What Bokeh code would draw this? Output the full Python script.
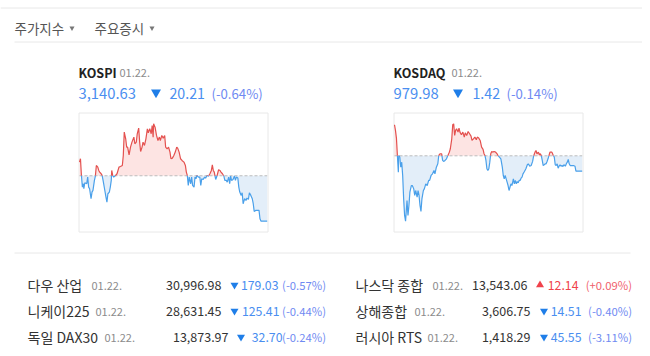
from bokeh.plotting import figure
from bokeh.models import Range1d
from bokeh.core.properties import value
from bokeh.embed import file_html
from bokeh.resources import INLINE
import numpy as np

# ---------------- data ----------------
tabs = ["주가지수", "주요증시"]

index_names = ["KOSPI", "KOSDAQ"]
index_dates = ["01.22.", "01.22."]
index_close = [3140.63, 979.98]
index_change = [-20.21, -1.42]
index_pct = [-0.64, -0.14]
session_minutes = 390  # 09:00 - 15:30

kospi_minutes = [0, 2, 4, 6, 8, 9, 11, 15, 17, 19, 21, 24, 26, 28, 31, 33, 35, 38, 40, 42, 45, 47, 49, 52, 55, 57, 59, 62, 64, 66, 67, 69, 71, 75, 78, 82, 85, 89, 91, 93, 96, 98, 100, 103, 106, 109, 113, 115, 118, 120, 123, 125, 127, 130, 132, 135, 138, 141, 143, 146, 149, 151, 153, 154, 157, 160, 163, 166, 168, 171, 174, 177, 179, 182, 185, 188, 190, 193, 196, 199, 202, 204, 207, 210, 213, 217, 220, 222, 224, 226, 228, 231, 233, 235, 238, 240, 242, 244, 247, 250, 252, 254, 257, 260, 262, 265, 268, 271, 274, 276, 278, 280, 283, 286, 289, 292, 294, 297, 300, 302, 305, 307, 310, 312, 314, 316, 319, 322, 324, 326, 329, 331, 333, 336, 338, 340, 343, 346, 348, 351, 353, 356, 359, 361, 363, 366, 369, 373, 375, 377, 390]
kospi_values = [3166.91, 3168.40, 3160.99, 3155.80, 3157.28, 3155.06, 3157.73, 3157.28, 3160.25, 3155.80, 3155.06, 3150.62, 3153.58, 3154.32, 3158.77, 3160.69, 3165.43, 3164.69, 3163.21, 3162.47, 3161.73, 3160.99, 3158.77, 3155.06, 3151.36, 3149.14, 3152.84, 3153.58, 3155.80, 3158.77, 3163.21, 3160.99, 3160.25, 3160.99, 3161.73, 3164.69, 3164.99, 3165.43, 3169.88, 3180.25, 3177.28, 3173.58, 3173.58, 3170.17, 3173.58, 3175.80, 3178.03, 3175.06, 3175.80, 3179.51, 3182.03, 3175.80, 3171.65, 3173.58, 3175.80, 3174.32, 3177.28, 3181.73, 3179.95, 3181.73, 3179.51, 3183.21, 3178.03, 3183.95, 3182.47, 3178.77, 3176.54, 3178.03, 3176.54, 3178.77, 3177.58, 3178.77, 3173.58, 3172.84, 3173.58, 3171.36, 3168.40, 3168.69, 3169.88, 3171.36, 3173.58, 3173.14, 3171.36, 3168.40, 3167.65, 3166.91, 3165.43, 3162.47, 3160.99, 3156.54, 3160.25, 3157.28, 3160.25, 3156.54, 3155.80, 3160.25, 3159.51, 3160.99, 3160.25, 3160.25, 3156.54, 3159.51, 3159.21, 3160.25, 3159.80, 3160.99, 3160.69, 3161.73, 3163.21, 3165.73, 3163.21, 3162.47, 3159.21, 3160.99, 3163.51, 3163.21, 3162.47, 3161.73, 3160.69, 3158.77, 3158.77, 3158.03, 3160.25, 3157.28, 3160.69, 3158.77, 3159.21, 3160.69, 3158.77, 3160.25, 3159.80, 3155.80, 3153.58, 3152.10, 3153.28, 3148.40, 3150.62, 3149.88, 3150.91, 3150.32, 3153.28, 3152.10, 3150.62, 3148.40, 3144.99, 3145.43, 3145.43, 3145.43, 3141.73, 3140.69, 3140.63]

kosdaq_minutes = [0, 2, 4, 6, 8, 9, 11, 13, 15, 17, 19, 21, 23, 26, 28, 30, 32, 35, 37, 40, 42, 44, 47, 49, 51, 53, 55, 57, 60, 62, 65, 68, 71, 73, 76, 79, 82, 84, 87, 90, 92, 95, 98, 100, 102, 105, 108, 111, 114, 116, 119, 121, 123, 125, 127, 129, 132, 134, 136, 139, 142, 145, 147, 150, 153, 156, 159, 161, 164, 167, 170, 172, 175, 178, 181, 184, 186, 188, 190, 192, 194, 196, 198, 200, 202, 204, 207, 210, 213, 215, 218, 221, 224, 226, 228, 230, 232, 234, 236, 238, 240, 242, 244, 247, 249, 251, 253, 255, 257, 259, 261, 263, 265, 267, 270, 273, 276, 278, 281, 284, 287, 289, 292, 294, 296, 299, 301, 303, 305, 307, 309, 311, 313, 315, 317, 319, 321, 323, 325, 327, 330, 332, 334, 336, 338, 340, 342, 344, 346, 348, 350, 352, 355, 357, 359, 361, 363, 365, 367, 369, 372, 375, 377, 390]
kosdaq_values = [984.27, 983.75, 983.04, 981.43, 979.89, 981.43, 981.28, 980.35, 980.81, 979.58, 977.42, 975.88, 975.35, 977.26, 975.88, 976.80, 978.04, 978.65, 978.65, 978.34, 977.73, 978.19, 977.57, 978.19, 977.73, 976.80, 976.25, 977.42, 978.19, 978.34, 978.81, 978.65, 979.12, 979.12, 979.58, 979.73, 980.04, 979.73, 980.35, 980.66, 981.43, 981.59, 981.59, 980.97, 980.88, 980.97, 981.12, 981.43, 981.74, 982.05, 982.97, 984.27, 984.36, 983.28, 983.75, 983.90, 983.59, 983.96, 983.59, 983.34, 983.59, 983.13, 983.53, 983.28, 983.65, 983.44, 983.22, 982.82, 982.97, 983.13, 982.88, 983.13, 983.04, 982.82, 982.20, 981.99, 981.59, 981.43, 980.97, 980.20, 980.04, 980.20, 980.81, 981.59, 981.80, 981.74, 981.80, 981.74, 981.59, 981.43, 981.28, 981.12, 980.35, 979.58, 979.27, 979.58, 979.27, 978.96, 978.65, 978.19, 978.50, 978.81, 978.65, 979.27, 978.81, 979.12, 978.81, 979.02, 978.90, 979.12, 979.12, 979.33, 979.42, 979.73, 979.95, 980.20, 980.57, 980.66, 980.44, 980.50, 980.88, 981.37, 981.74, 981.89, 981.59, 981.74, 981.50, 981.59, 981.43, 980.97, 980.50, 980.57, 980.66, 980.66, 980.88, 981.12, 981.43, 981.74, 981.74, 981.74, 981.43, 981.28, 980.57, 980.50, 980.66, 980.26, 980.44, 980.57, 980.44, 980.50, 980.41, 980.57, 980.44, 980.66, 980.81, 981.06, 980.66, 980.50, 980.50, 980.50, 980.50, 980.44, 979.98, 979.98]

world_names = ["다우 산업", "니케이225", "독일 DAX30", "나스닥 종합", "상해종합", "러시아 RTS"]
world_dates = ["01.22."] * 6
world_close = ["30,996.98", "28,631.45", "13,873.97", "13,543.06", "3,606.75", "1,418.29"]
world_change = ["179.03", "125.41", "32.70", "12.14", "14.51", "45.55"]
world_pct = ["(-0.57%)", "(-0.44%)", "(-0.24%)", "(+0.09%)", "(-0.40%)", "(-3.11%)"]
world_up = [False, False, False, True, False, False]

# ---------------- styles / layout ----------------
FONT = "Noto Sans CJK KR"
C_TEXT = "#333333"
C_TAB = "#555555"
C_DATE = "#8c8c8c"
C_BLUE = "#4a8ef0"
C_BLUE_PCT = "#6f8af2"
C_BLUE_TRI = "#1f7ee8"
C_RED = "#f0424b"
C_RED_PCT = "#f0606c"
C_LINE = "#e8e8e8"
LINE_UP = "#e4514f"
LINE_DN = "#4aa0ea"
FILL_UP = "#fde4e3"
FILL_DN = "#e3eef9"

# page placement (figure is rendered at the page origin)
PX0, PX1, PY0, PY1 = 0, 642, 0, 348
W, H = PX1 - PX0, PY1 - PY0

p = figure(width=W, height=H, x_range=Range1d(PX0, PX1), y_range=Range1d(PY1, PY0),
           output_backend="svg", toolbar_location=None, min_border=0,
           x_axis_location=None, y_axis_location=None)
p.grid.visible = False
p.outline_line_color = None
p.background_fill_color = "white"
p.border_fill_color = "white"


def txt(x, y, s, size, color, bold=False, align="left"):
    p.text(x=[x], y=[y], text=[s], text_font=value(FONT), text_font_size=f"{size}px",
           text_color=color, text_align=align, text_baseline="middle",
           text_font_style="bold" if bold else "normal")


def hline(x0, x1, y, color=C_LINE):
    p.segment(x0=[x0], y0=[y], x1=[x1], y1=[y], line_color=color, line_width=1)


# separators
hline(PX0, PX1, 7.5)
hline(14, PX1, 41.5)
hline(14, 630, 252.5)

# tabs
tab_x = [14, 94]
tri_x = [71.5, 151.5]
for tx, trx, t in zip(tab_x, tri_x, tabs):
    txt(tx, 27.5, t, 13.5, C_TAB)
    p.scatter(x=[trx], y=[27.5], marker="inverted_triangle", size=5, fill_color="#777777",
              line_color=None)


def split_at_base(t, v, base):
    t2, v2 = [t[0]], [v[0]]
    for i in range(1, len(t)):
        a, b = v[i - 1] - base, v[i] - base
        if a * b < 0:
            f = a / (a - b)
            t2.append(t[i - 1] + f * (t[i] - t[i - 1]))
            v2.append(base)
        t2.append(t[i])
        v2.append(v[i])
    return np.array(t2, float), np.array(v2, float)


def spark(name, minutes, values, prev_close, xl, xr, yt, yb, box):
    lo, hi = min(values), max(values)
    k = session_minutes / (xr - xl)
    m = (hi - lo) / (yb - yt)
    p.extra_x_ranges[name + "_x"] = Range1d(-(xl - PX0) * k, session_minutes + (PX1 - xr) * k)
    p.extra_y_ranges[name + "_y"] = Range1d(lo - (PY1 - yb) * m, hi + (yt - PY0) * m)
    kw = dict(x_range_name=name + "_x", y_range_name=name + "_y")

    bl, bt, br, bb = box
    p.quad(left=[bl], right=[br], top=[bt], bottom=[bb], fill_color=None,
           line_color=C_LINE, line_width=1)

    t2, v2 = split_at_base(minutes, values, prev_close)
    base = np.full_like(v2, prev_close)
    p.varea(x=t2, y1=base, y2=np.maximum(v2, prev_close), fill_color=FILL_UP, **kw)
    p.varea(x=t2, y1=np.minimum(v2, prev_close), y2=base, fill_color=FILL_DN, **kw)
    p.line(x=[0, session_minutes], y=[prev_close, prev_close], line_color="#bdbdbd",
           line_dash="3 2", line_width=1, **kw)

    xs_up, ys_up, xs_dn, ys_dn = [], [], [], []
    cur_x, cur_y, cur_up = [t2[0]], [v2[0]], None
    for i in range(1, len(t2)):
        up = (v2[i - 1] + v2[i]) / 2 >= prev_close
        if cur_up is None:
            cur_up = up
        if up != cur_up:
            (xs_up if cur_up else xs_dn).append(cur_x)
            (ys_up if cur_up else ys_dn).append(cur_y)
            cur_x, cur_y, cur_up = [t2[i - 1]], [v2[i - 1]], up
        cur_x.append(t2[i])
        cur_y.append(v2[i])
    (xs_up if cur_up else xs_dn).append(cur_x)
    (ys_up if cur_up else ys_dn).append(cur_y)
    p.multi_line(xs=xs_up, ys=ys_up, line_color=LINE_UP, line_width=1.2, **kw)
    p.multi_line(xs=xs_dn, ys=ys_dn, line_color=LINE_DN, line_width=1.2, **kw)


# index headers
hdr_x = [78, 393]
date_x = [119, 451]
tri_hx = [155.5, 457.5]
chg_x = [169, 472]
pct_x = [211, 506]
for i in range(2):
    txt(hdr_x[i], 72, index_names[i], 12.5, "#222222", bold=True)
    txt(date_x[i], 72, index_dates[i], 11, C_DATE)
    txt(hdr_x[i], 92.5, f"{index_close[i]:,.2f}", 14.8, C_BLUE)
    p.scatter(x=[tri_hx[i]], y=[92], marker="inverted_triangle", size=10,
              fill_color=C_BLUE_TRI, line_color=None)
    txt(chg_x[i], 92.5, f"{abs(index_change[i]):.2f}", 14.2, C_BLUE)
    txt(pct_x[i], 92.5, f"({index_pct[i]:.2f}%)", 13.2, C_BLUE_PCT)

spark("kospi", kospi_minutes, kospi_values, index_close[0] - index_change[0],
      79, 266.7, 123.3, 220.7, (78.5, 112.5, 267.5, 231.5))
spark("kosdaq", kosdaq_minutes, kosdaq_values, index_close[1] - index_change[1],
      394, 581.7, 123.3, 220.7, (393.5, 112.5, 582.5, 231.5))

# world table
row_y = [284.5, 310.5, 336.5]
name_x = [27, 355]
wdate_x = [91, 95, 104, 432, 414, 427]
close_r = [221, 221, 228, 527, 530, 530]
wtri_x = [234, 234, 240.5, 539.5, 543.5, 543.5]
wchg_r = [278, 279, 282, 578, 581, 581]
pct_r = [325.5, 631.5]
for i, nm in enumerate(world_names):
    col, row = divmod(i, 3)
    y = row_y[row]
    up = world_up[i]
    txt(name_x[col], y, nm, 14, C_TEXT)
    txt(wdate_x[i], y + 0.5, world_dates[i], 11, C_DATE)
    txt(close_r[i], y, world_close[i], 12.5, C_TEXT, align="right")
    p.scatter(x=[wtri_x[i]], y=[y], marker="triangle" if up else "inverted_triangle",
              size=8, fill_color=C_RED if up else C_BLUE_TRI, line_color=None)
    txt(wchg_r[i], y, world_change[i], 12.3, C_RED if up else C_BLUE, align="right")
    txt(pct_r[col], y, world_pct[i], 11.3, C_RED_PCT if up else C_BLUE_PCT, align="right")

open("out.html", "w").write(file_html(p, INLINE))
